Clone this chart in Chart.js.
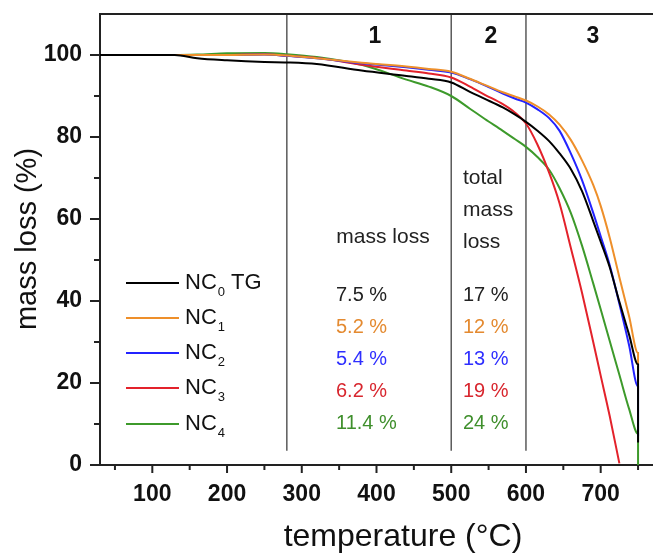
<!DOCTYPE html>
<html>
<head>
<meta charset="utf-8">
<script src="https://cdn.jsdelivr.net/npm/chart.js@4.4.1/dist/chart.umd.min.js"></script>
<style>
  html, body { margin: 0; padding: 0; background: #fff; }
  #wrap { width: 653px; height: 554px; }
</style>
</head>
<body>
<div id="wrap"><canvas id="tgChart"></canvas></div>
<script>
// temperature (°C) and mass (%)
const temps = [30, 130, 160, 200, 250, 280, 320, 380, 440, 470, 500, 525, 545, 569, 585, 600, 615, 631, 645, 660, 675, 690, 700, 712, 725, 738, 750, 750];
const nc0 = [100, 100, 99.2, 98.7, 98.3, 98.2, 97.8, 96.2, 94.9, 94.2, 93.3, 91.0, 89.3, 87.2, 85.5, 83.7, 81.6, 79.0, 76.0, 72.2, 66.8, 59.5, 54.5, 48.3, 39.8, 31.8, 24.5, 5.5];
const nc1 = [100, 100, 100, 100, 100.1, 99.9, 99.2, 98.1, 97.2, 96.6, 95.9, 94.2, 92.7, 90.9, 89.9, 88.9, 87.5, 85.5, 83.0, 79.3, 74.3, 68.3, 63.2, 55.5, 45.8, 36.3, 27.3, 20.3];
const nc2 = [100, 100, 100, 100, 100.1, 99.8, 99.2, 98.0, 97.0, 96.4, 95.7, 94.1, 92.6, 90.6, 89.4, 88.4, 86.8, 84.6, 81.5, 76.0, 69.5, 61.5, 55.8, 48.8, 39.3, 29.2, 19.1, 7];
const nc3 = [100, 100, 100, 100, 100.2, 99.8, 99.3, 97.6, 96.2, 95.5, 94.5, 92.3, 90.3, 88.0, 86.0, 83.3, 78.3, 71.3, 63.8, 53.0, 42.0, 30.0, 21.8, 12.0, 0.4, null, null, null];
const nc4 = [100, 100, 100.1, 100.4, 100.5, 100.2, 99.5, 97.6, 94.0, 92.3, 90.0, 86.9, 84.4, 81.5, 79.5, 77.6, 75.2, 72.0, 67.5, 61.5, 53.5, 44.3, 38.0, 30.3, 22.0, 13.7, 7.6, 0];

const seriesNames = ['NC0 TG', 'NC1', 'NC2', 'NC3', 'NC4'];
const legendSubs = ['0', '1', '2', '3', '4'];
const legendTails = [' TG', '', '', '', ''];
const massLoss = ['7.5 %', '5.2 %', '5.4 %', '6.2 %', '11.4 %'];
const totalLoss = ['17 %', '12 %', '13 %', '19 %', '24 %'];
const regionLines = [280, 500, 600];
const regionNames = ['1', '2', '3'];
const xTicks = [100, 200, 300, 400, 500, 600, 700];
const yTicks = [0, 20, 40, 60, 80, 100];

const lineColors = ['#000000', '#ee8f2a', '#2323ff', '#e3222b', '#3d9a2b'];
const textColors = ['#222222', '#e48a30', '#2f2fff', '#d8262e', '#3f8f2c'];
const FONT = "'Liberation Sans', Arial, sans-serif";

function toPoints(arr) {
    return temps.map((t, i) => ({ x: t, y: arr[i] })).filter(p => p.y !== null);
}

const allSeries = [nc0, nc1, nc2, nc3, nc4];

const decorPlugin = {
    id: 'decor',
    beforeDatasetsDraw(chart) {
        const { ctx, chartArea, scales: { x, y } } = chart;
        ctx.save();
        ctx.strokeStyle = '#5a5a5a';
        ctx.lineWidth = 1.5;
        regionLines.forEach(t => {
            const px = x.getPixelForValue(t);
            ctx.beginPath();
            ctx.moveTo(px, chartArea.top);
            ctx.lineTo(px, y.getPixelForValue(3.5));
            ctx.stroke();
        });
        ctx.restore();
    },
    afterDraw(chart) {
        const { ctx, chartArea, scales: { x, y } } = chart;
        ctx.save();

        // top frame line
        ctx.strokeStyle = '#222';
        ctx.lineWidth = 2;
        ctx.beginPath();
        ctx.moveTo(chartArea.left - 1, chartArea.top);
        ctx.lineTo(chartArea.right, chartArea.top);
        ctx.stroke();

        // tick marks, major and minor
        ctx.lineWidth = 2;
        for (let v = 0; v <= 100; v += 10) {
            const py = y.getPixelForValue(v);
            const len = v % 20 === 0 ? 10 : 6;
            ctx.beginPath();
            ctx.moveTo(chartArea.left - len, py);
            ctx.lineTo(chartArea.left, py);
            ctx.stroke();
        }
        for (let v = 50; v <= 750; v += 50) {
            const px = x.getPixelForValue(v);
            const len = v % 100 === 0 ? 8 : 5;
            ctx.beginPath();
            ctx.moveTo(px, chartArea.bottom);
            ctx.lineTo(px, chartArea.bottom + len);
            ctx.stroke();
        }

        // region numbers
        ctx.fillStyle = '#111';
        ctx.font = 'bold 23px ' + FONT;
        ctx.textAlign = 'center';
        ctx.textBaseline = 'middle';
        [375, 491, 593].forEach((px, i) => ctx.fillText(regionNames[i], px, 37));

        // column headers
        ctx.font = '21px ' + FONT;
        ctx.fillStyle = '#222';
        ctx.fillText('mass loss', 383, 237);
        ctx.textAlign = 'left';
        ctx.fillText('total', 463, 178);
        ctx.fillText('mass', 463, 210);
        ctx.fillText('loss', 463, 242);

        // percentages
        ctx.font = '20px ' + FONT;
        const rows = [295, 327, 359, 391, 423];
        rows.forEach((py, i) => {
            ctx.fillStyle = textColors[i];
            ctx.fillText(massLoss[i], 336, py);
            ctx.fillText(totalLoss[i], 463, py);
        });

        // legend
        const legRows = [283, 318, 353, 388, 424];
        legRows.forEach((py, i) => {
            ctx.strokeStyle = lineColors[i];
            ctx.lineWidth = 2;
            ctx.beginPath();
            ctx.moveTo(126, py);
            ctx.lineTo(179, py);
            ctx.stroke();
            ctx.fillStyle = '#111';
            ctx.font = '22px ' + FONT;
            ctx.textAlign = 'left';
            ctx.textBaseline = 'middle';
            ctx.fillText('NC', 185, py);
            let w = ctx.measureText('NC').width;
            ctx.font = '13px ' + FONT;
            ctx.fillText(legendSubs[i], 185 + w + 1, py + 9);
            const sw = ctx.measureText(legendSubs[i]).width;
            if (legendTails[i]) {
                ctx.font = '22px ' + FONT;
                ctx.fillText(legendTails[i], 185 + w + 1 + sw, py);
            }
        });

        // axis titles
        ctx.fillStyle = '#111';
        ctx.font = '32px ' + FONT;
        ctx.textAlign = 'center';
        ctx.textBaseline = 'middle';
        ctx.fillText('temperature (\u00B0C)', 403, 537);
        ctx.translate(28, 239);
        ctx.rotate(-Math.PI / 2);
        ctx.font = '29px ' + FONT;
        ctx.fillText('mass loss (%)', 0, 0);

        ctx.restore();
    }
};

const ctx = document.getElementById('tgChart').getContext('2d');
const tgChart = new Chart(ctx, {
    type: 'line',
    data: {
        datasets: allSeries.map((arr, i) => ({
            label: seriesNames[i],
            data: toPoints(arr),
            borderColor: lineColors[i],
            borderWidth: 2,
            pointRadius: 0,
            cubicInterpolationMode: 'monotone',
            fill: false
        }))
    },
    options: {
        responsive: true,
        maintainAspectRatio: false,
        animation: false,
        layout: { padding: { top: 14, right: 0, left: 0, bottom: 0 } },
        plugins: {
            legend: { display: false },
            tooltip: { enabled: false }
        },
        scales: {
            x: {
                type: 'linear',
                min: 30,
                max: 770,
                afterBuildTicks: s => { s.ticks = xTicks.map(v => ({ value: v })); },
                afterFit: s => { s.height = 89; s.paddingLeft = 0; s.paddingRight = 0; },
                grid: { display: false },
                border: { display: true, color: '#222', width: 2 },
                ticks: {
                    padding: 8,
                    color: '#111',
                    maxRotation: 0,
                    font: { family: FONT, size: 23, weight: 'bold' }
                }
            },
            y: {
                min: 0,
                max: 110,
                afterBuildTicks: s => { s.ticks = yTicks.map(v => ({ value: v })); },
                afterFit: s => { s.width = 100; s.paddingTop = 0; s.paddingBottom = 0; },
                grid: { display: false },
                border: { display: true, color: '#222', width: 2 },
                ticks: {
                    padding: 10,
                    color: '#111',
                    font: { family: FONT, size: 23, weight: 'bold' }
                }
            }
        }
    },
    plugins: [decorPlugin]
});
</script>
</body>
</html>
